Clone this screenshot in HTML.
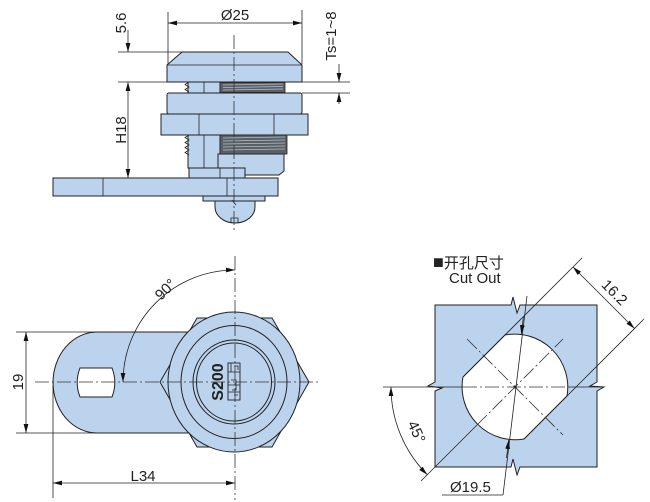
<!DOCTYPE html>
<html><head><meta charset="utf-8"><style>
html,body{margin:0;padding:0;background:#fff;}
svg{display:block;}
text{font-family:"Liberation Sans","Noto Sans CJK SC",sans-serif;fill:#222;}
.s{fill:#bcd3ee;stroke:#222;stroke-width:1;}
.l{stroke:#222;stroke-width:0.8;fill:none;}
.t{stroke:#222;stroke-width:1;fill:none;}
.c{stroke:#333;stroke-width:0.8;stroke-dasharray:14 3 2 3;fill:none;}
.th{stroke:#b9bec5;stroke-width:0.7;fill:none;}
</style></head><body>
<svg width="650" height="502" viewBox="0 0 650 502" xmlns="http://www.w3.org/2000/svg">
<defs>
<marker id="a" viewBox="0 0 9 6" refX="9" refY="3" markerWidth="9" markerHeight="6" markerUnits="userSpaceOnUse" orient="auto-start-reverse"><path d="M0,0.6 L9,3 L0,5.4 z" fill="#111"/></marker>
</defs>

<!-- ================= TOP VIEW ================= -->
<polygon class="s" points="182,52 288,52 302,65 302,82 167,82 167,65"/>
<line class="l" x1="167" y1="65" x2="302" y2="65"/>
<rect class="s" x="188" y="82" width="32" height="11"/>
<line class="l" x1="204" y1="82" x2="204" y2="93"/>
<polyline class="l" points="189,82 185,84.5 189,87 185,89.5 189,92"/>
<rect x="220" y="82.5" width="65" height="10" fill="#5a6068" stroke="#222" stroke-width="0.8"/>
<line class="th" x1="223" y1="85" x2="283" y2="84"/>
<line class="th" x1="223" y1="87.5" x2="283" y2="86.5"/>
<line class="th" x1="223" y1="90" x2="283" y2="89"/>
<rect class="s" x="167" y="93" width="135" height="21" rx="2"/>
<rect class="s" x="161" y="114" width="147" height="21"/>
<line class="l" x1="199" y1="114" x2="199" y2="135"/>
<line class="l" x1="274" y1="114" x2="274" y2="135"/>
<rect class="s" x="188" y="135" width="32" height="33"/>
<line class="l" x1="204" y1="135" x2="204" y2="168"/>
<polyline class="l" points="189,135 185,137.5 189,140 185,142.5 189,145 185,147.5 189,150 185,152.5 189,155"/>
<polygon class="s" points="218,154 284,154 284,171 279,175 218,175"/>
<rect x="220" y="135" width="67" height="19" fill="#5a6068" stroke="#222" stroke-width="0.8"/>
<line class="th" x1="223" y1="138" x2="285" y2="137"/>
<line class="th" x1="223" y1="141" x2="285" y2="140"/>
<line class="th" x1="223" y1="144" x2="285" y2="143"/>
<line class="th" x1="223" y1="147" x2="285" y2="146"/>
<line class="th" x1="223" y1="150" x2="285" y2="149"/>
<rect class="s" x="189" y="168" width="56" height="10"/>
<line class="l" x1="220" y1="168" x2="220" y2="178"/>
<rect class="s" x="53" y="178" width="225" height="18"/>
<line class="l" x1="103" y1="178" x2="103" y2="196"/>
<line class="l" x1="227" y1="178" x2="227" y2="196"/>
<rect class="s" x="203" y="196" width="62" height="5"/>
<path class="s" d="M215,201 L255,201 L255,207 A20,16 0 0 1 215,207 Z"/>
<path class="l" d="M231,223 L231,218 L238,218 L238,223"/>
<line class="l" x1="232" y1="200" x2="236" y2="205"/>
<line class="c" x1="234" y1="35" x2="234" y2="232"/>

<line class="l" x1="168" y1="12" x2="168" y2="64"/>
<line class="l" x1="302" y1="10" x2="302" y2="64"/>
<line class="l" x1="168" y1="23" x2="302" y2="23" marker-start="url(#a)" marker-end="url(#a)"/>
<text x="235" y="20" font-size="15" text-anchor="middle">Ø25</text>

<line class="l" x1="118" y1="52" x2="182" y2="52"/>
<line class="l" x1="118" y1="82" x2="350" y2="82"/>
<line class="l" x1="302" y1="93" x2="350" y2="93"/>
<line class="l" x1="128" y1="30" x2="128" y2="52" marker-end="url(#a)"/>
<line class="l" x1="128" y1="82" x2="128" y2="178" marker-start="url(#a)" marker-end="url(#a)"/>
<text transform="translate(126,23) rotate(-90)" font-size="15" text-anchor="middle">5.6</text>
<text transform="translate(126,130) rotate(-90)" font-size="15" text-anchor="middle">H18</text>
<line class="l" x1="339" y1="64" x2="339" y2="82" marker-end="url(#a)"/>
<line class="l" x1="339" y1="93" x2="339" y2="104" marker-start="url(#a)"/>
<text transform="translate(336,36) rotate(-90)" font-size="15" text-anchor="middle">Ts=1~8</text>

<!-- ================= BOTTOM-LEFT VIEW ================= -->
<path class="s" d="M97,332 L205,332 L205,433 L97,433 A44,50.5 0 0 1 97,332 Z"/>
<path d="M80,368 L112,368 A40,40 0 0 1 112,397 L80,397 A40,40 0 0 1 80,368 Z" fill="#fff" stroke="#222" stroke-width="1"/>
<polygon class="s" points="197,318 272,318 309,382 272,447 197,447 160,382"/>
<ellipse class="s" cx="234" cy="382" rx="66" ry="70"/>
<ellipse class="t" cx="234" cy="382" rx="53" ry="56.5"/>
<ellipse class="t" cx="234" cy="382" rx="41" ry="42" stroke-width="1.6"/>
<ellipse class="t" cx="234" cy="382" rx="37.5" ry="39"/>
<rect x="228" y="363" width="12" height="37" fill="none" stroke="#222" stroke-width="0.9"/>
<path class="l" d="M231,363 L231,372 M228,372 L240,372 M234,366 L238,366 L238,370 M228,385 L240,385 M231,380 L236,380 L236,390 L232,390 M228,392 L240,392 M234,395 L238,395"/>
<text transform="translate(223,382) rotate(-90)" font-size="16" font-weight="bold" text-anchor="middle" fill="#333">S200</text>

<line class="c" x1="235" y1="256" x2="235" y2="500"/>
<line class="c" x1="35" y1="382" x2="318" y2="382"/>

<line class="l" x1="16" y1="332" x2="97" y2="332"/>
<line class="l" x1="16" y1="433" x2="97" y2="433"/>
<line class="l" x1="26" y1="332" x2="26" y2="433" marker-start="url(#a)" marker-end="url(#a)"/>
<text transform="translate(23,382) rotate(-90)" font-size="15" text-anchor="middle">19</text>
<line class="l" x1="53" y1="385" x2="53" y2="498"/>
<line class="l" x1="53" y1="483" x2="235" y2="483" marker-start="url(#a)" marker-end="url(#a)"/>
<text x="143" y="481" font-size="15" text-anchor="middle">L34</text>
<path class="l" d="M235,270 A112,112 0 0 0 123,382" marker-start="url(#a)" marker-end="url(#a)"/>
<text transform="translate(169,293) rotate(-45)" font-size="15" text-anchor="middle">90°</text>

<!-- ================= CUT OUT VIEW ================= -->
<text x="433" y="268" font-size="15"><tspan font-size="18">■</tspan>开孔尺寸</text>
<text x="449" y="283" font-size="15">Cut Out</text>

<path class="s" d="M435,305 L511,305 L513,297 L517,313 L520,305 L597,305 L597,382 L590,386 L604,387 L597,391 L597,467 L520,467 L517,475 L513,459 L511,467 L435,467 L435,391 L442,388 L428,386 L435,382 Z"/>
<path d="M505,335 A53,53 0 0 1 567,396 L524,439 A53,53 0 0 1 463,377 Z" fill="#fff" stroke="#222" stroke-width="1"/>
<line class="l" x1="463" y1="377" x2="582" y2="258"/>
<line class="l" x1="524" y1="439" x2="644" y2="319"/>
<line class="l" x1="573" y1="267" x2="634.5" y2="328.5" marker-start="url(#a)" marker-end="url(#a)"/>
<text transform="translate(611,296) rotate(45)" font-size="15" text-anchor="middle">16.2</text>
<line class="l" x1="383" y1="387" x2="463" y2="387"/>
<line class="l" x1="568" y1="387" x2="603" y2="387"/>
<line class="c" x1="463" y1="387" x2="568" y2="387"/>
<line class="c" x1="467" y1="339" x2="563" y2="435"/>
<line class="c" x1="477" y1="425" x2="563" y2="339"/>
<line class="l" x1="477" y1="425" x2="421" y2="481"/>
<circle cx="515" cy="387" r="1.5" fill="#222"/>
<path class="l" d="M391,387 A124,124 0 0 0 427.3,474.7" marker-start="url(#a)" marker-end="url(#a)"/>
<text transform="translate(412,434) rotate(65)" font-size="15" text-anchor="middle">45°</text>
<line class="l" x1="527" y1="296" x2="503" y2="495"/>
<line class="l" x1="523.4" y1="317" x2="521.3" y2="334" marker-end="url(#a)"/>
<line class="l" x1="506.5" y1="458" x2="508.7" y2="440" marker-end="url(#a)"/>
<line class="l" x1="442" y1="495" x2="503" y2="495"/>
<text x="450" y="492" font-size="15">Ø19.5</text>
</svg>
</body></html>
